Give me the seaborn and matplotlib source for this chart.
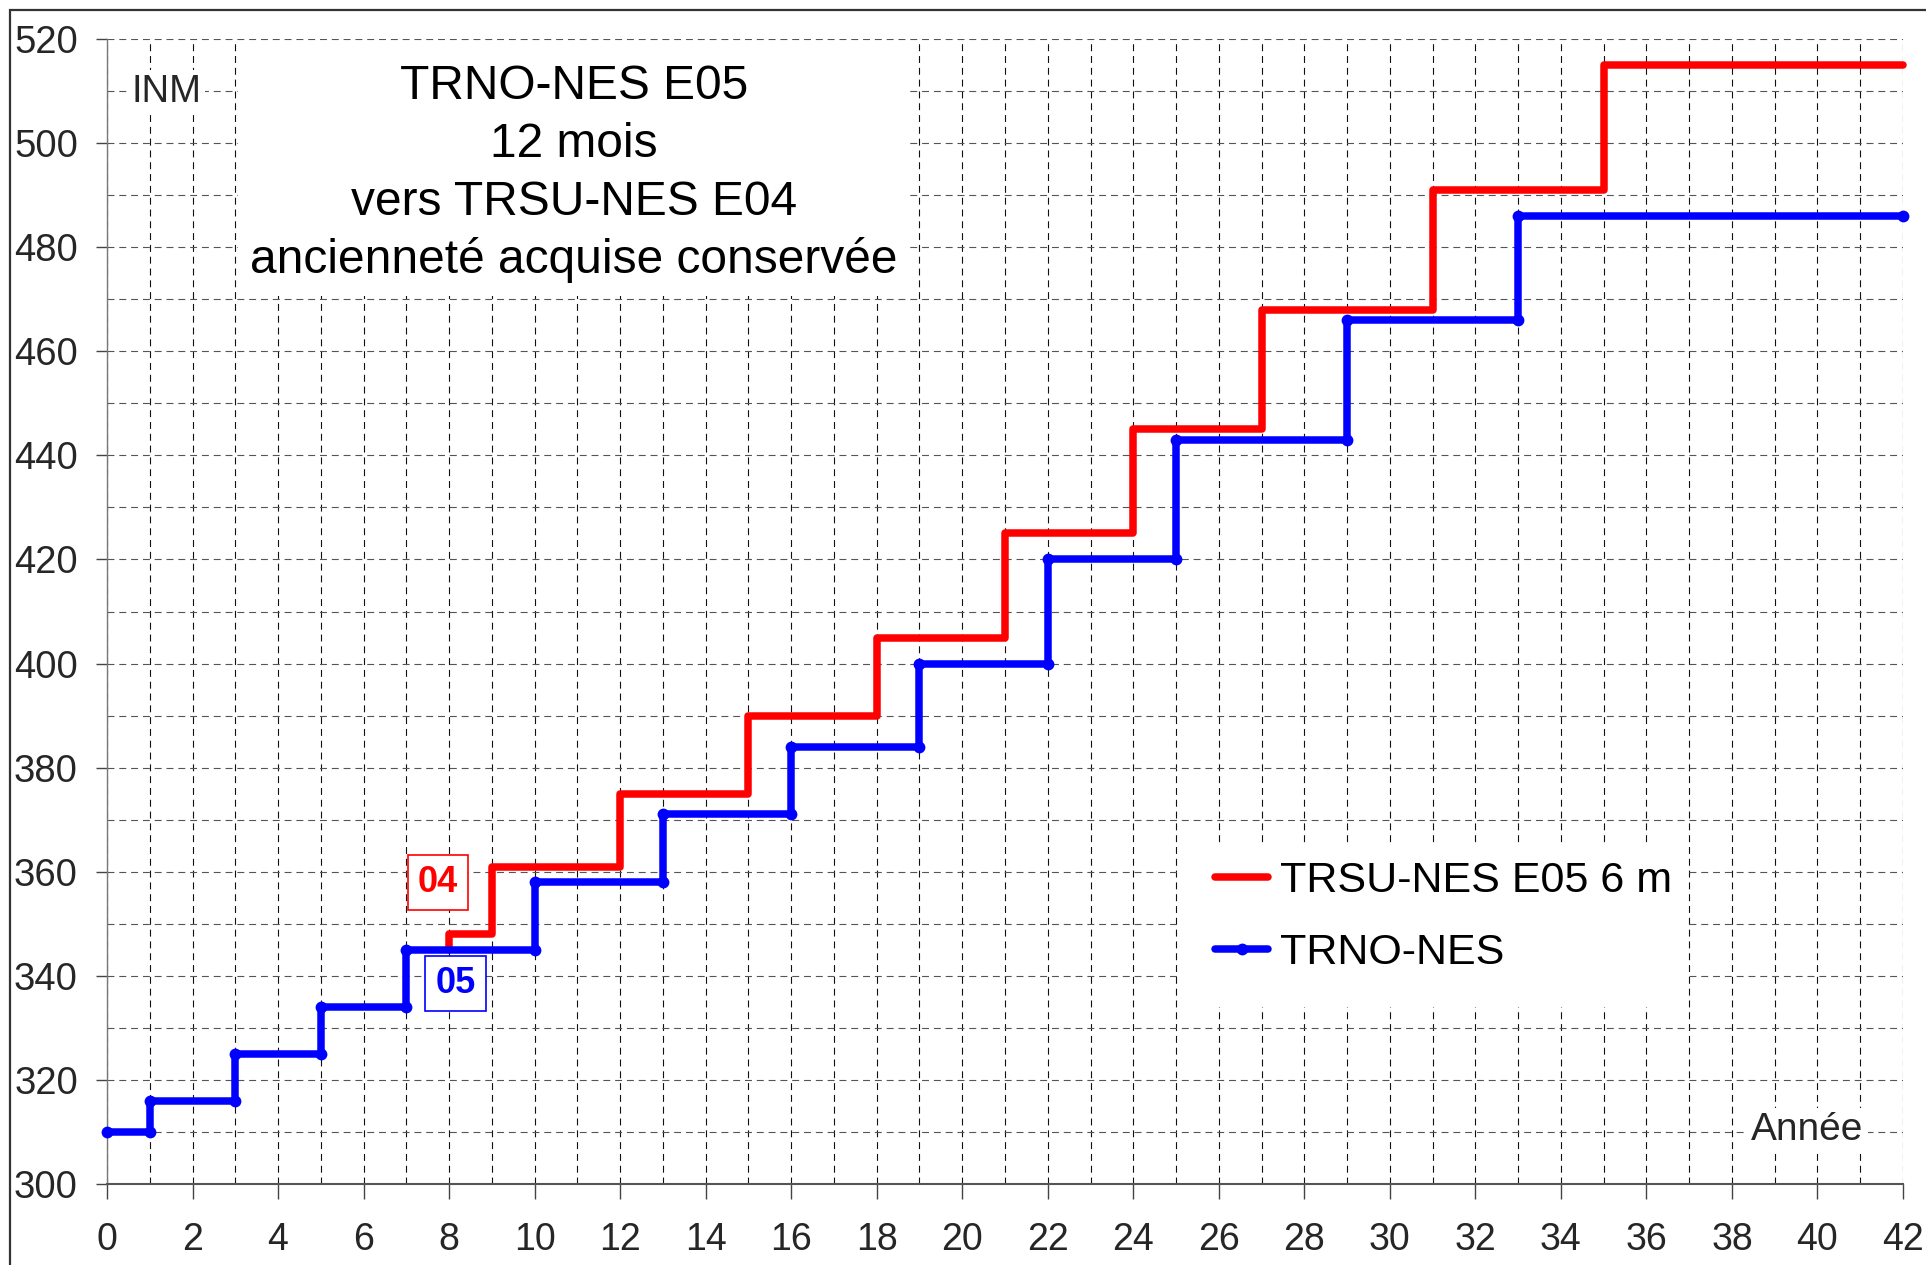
import matplotlib
matplotlib.use("Agg")
import matplotlib.pyplot as plt
import seaborn as sns
import pandas as pd
from matplotlib.ticker import MultipleLocator
from matplotlib.patches import Rectangle

# ---------------- data ----------------
trno_years = [0, 1, 3, 5, 7, 10, 13, 16, 19, 22, 25, 29, 33]
trno_inm = [310, 316, 325, 334, 345, 358, 371, 384, 400, 420, 443, 466, 486]
trsu_start_inm = 345
trsu_years = [8, 9, 12, 15, 18, 21, 24, 27, 31, 35]
trsu_inm = [348, 361, 375, 390, 405, 425, 445, 468, 491, 515]
end_year = 42

label_trsu = "TRSU-NES E05 6 m"
label_trno = "TRNO-NES"
title_lines = ["TRNO-NES E05", "12 mois", "vers TRSU-NES E04", "ancienneté acquise conservée"]
x_ticks = list(range(0, 43, 2))
y_ticks = list(range(300, 521, 20))


def step_points(years, values, end):
    xs, ys = [], []
    for i, (x, y) in enumerate(zip(years, values)):
        nxt = years[i + 1] if i + 1 < len(years) else end
        xs += [x, nxt]
        ys += [y, y]
    return xs, ys


bx, by = step_points(trno_years, trno_inm, end_year)
rx, ry = step_points(trsu_years, trsu_inm, end_year)
rx = [trsu_years[0]] + rx
ry = [trsu_start_inm] + ry
df_trno = pd.DataFrame({"annee": bx, "inm": by})
df_trsu = pd.DataFrame({"annee": rx, "inm": ry})

# ---------------- style ----------------
sns.set_theme(style="white")
plt.rcParams["font.family"] = ["Liberation Sans", "DejaVu Sans"]
plt.rcParams["lines.scale_dashes"] = False

W, H = 1926, 1265
fig = plt.figure(figsize=(W / 100, H / 100), dpi=100)
L, R, T, B = 107, 1903, 39, 1184
ax = fig.add_axes([L / W, 1 - B / H, (R - L) / W, (B - T) / H])

# figure frame
fig.patches.append(Rectangle((10 / W, -0.05), 1.1, 1 - 10 / H + 0.05, transform=fig.transFigure,
                             fill=False, edgecolor="#333333", linewidth=1.6, zorder=0))

ax.set_xlim(0, 42)
ax.set_ylim(300, 520)
ax.xaxis.set_major_locator(MultipleLocator(2))
ax.xaxis.set_minor_locator(MultipleLocator(1))
ax.yaxis.set_major_locator(MultipleLocator(20))
ax.yaxis.set_minor_locator(MultipleLocator(10))

ax.set_axisbelow(True)
ax.xaxis.grid(True, which="both", color="#111111", linestyle=(0, (5, 3.5)), linewidth=0.8)
ax.yaxis.grid(True, which="both", color="#555555", linestyle=(0, (5, 3.5)), linewidth=0.8)

for s in ["top", "right"]:
    ax.spines[s].set_visible(False)
ax.spines["left"].set_color("#777777")
ax.spines["left"].set_linewidth(1.0)
ax.spines["bottom"].set_color("#555555")
ax.spines["bottom"].set_linewidth(1.5)

ax.tick_params(axis="x", which="major", direction="out", length=11, width=1.0, color="#444444",
               labelsize=27, pad=16, bottom=True)
ax.tick_params(axis="y", which="major", direction="out", length=8, width=1.0, color="#444444",
               labelsize=27.5, pad=13, left=True)
ax.tick_params(which="minor", length=0)
ax.set_xticks(x_ticks)
ax.set_yticks(y_ticks)

# white boxes covering grid (title area and legend area)
ax.add_patch(Rectangle((3.06, 470.6), 15.7, 48.9, facecolor="white", edgecolor="none", zorder=1))
ax.add_patch(Rectangle((25.06, 334.0), 11.88, 31.0, facecolor="white", edgecolor="none", zorder=1))

# lines
sns.lineplot(data=df_trsu, x="annee", y="inm", sort=False, estimator=None, ax=ax,
             color="#ff0000", linewidth=5.4, label=label_trsu, solid_capstyle="round",
             solid_joinstyle="round", clip_on=False, zorder=3)
sns.lineplot(data=df_trno, x="annee", y="inm", sort=False, estimator=None, ax=ax,
             color="#0000ff", linewidth=5.4, marker="o", markersize=8.5, markeredgewidth=0,
             label=label_trno, solid_capstyle="round", clip_on=False, zorder=4)

ax.set_xlabel("")
ax.set_ylabel("")

# title block
title_y = [508.4, 497.3, 486.2, 475.1]
for txt, yy in zip(title_lines, title_y):
    ax.text(10.92, yy, txt, ha="center", va="baseline", fontsize=34.5, color="black", zorder=5)

ax.text(1.38, 509.8, "INM", ha="center", va="center", fontsize=27.5, zorder=5,
        bbox=dict(facecolor="white", edgecolor="none", pad=3))
ax.text(39.76, 310.4, "Année", ha="center", va="center", fontsize=28, zorder=5,
        bbox=dict(facecolor="white", edgecolor="none", pad=3))

ax.text(7.74, 357.9, "04", ha="center", va="center", fontsize=26, fontweight="bold",
        color="#ff0000", zorder=6,
        bbox=dict(facecolor="white", edgecolor="#ff0000", linewidth=1.2, boxstyle="square,pad=0.28"))
ax.text(8.15, 338.5, "05", ha="center", va="center", fontsize=26, fontweight="bold",
        color="#0000ff", zorder=6,
        bbox=dict(facecolor="white", edgecolor="#0000ff", linewidth=1.2, boxstyle="square,pad=0.28"))

# legend
handles, labels = ax.get_legend_handles_labels()
leg = ax.legend(handles, labels, loc="center left", bbox_to_anchor=(25.92, 351.3),
                bbox_transform=ax.transData, frameon=False, fontsize=31,
                handlelength=1.22, handletextpad=0.28, labelspacing=0.76, borderpad=0,
                borderaxespad=0)
for t in leg.get_texts():
    t.set_color("black")

fig.savefig("out.png", dpi=100)
